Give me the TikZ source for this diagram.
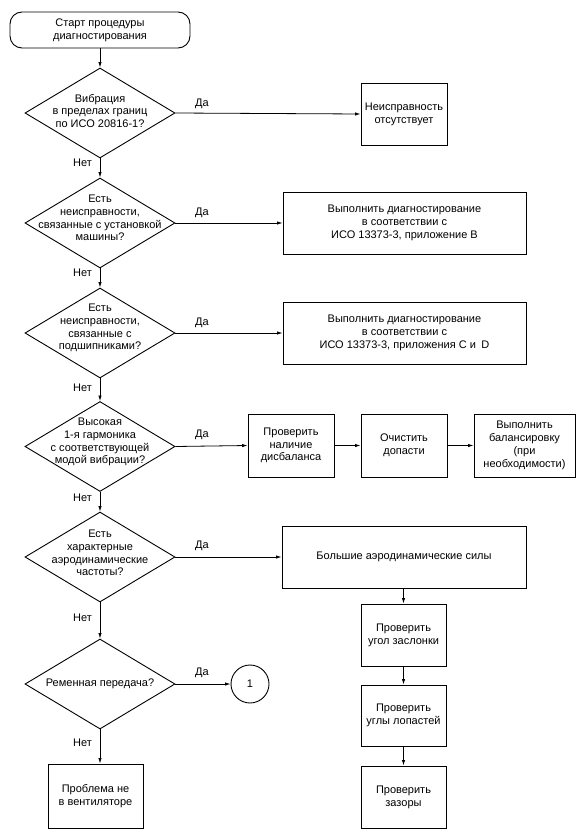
\documentclass[tikz,border=0pt]{standalone}
\usepackage{fontspec}
\setmainfont{Liberation Sans}
\usetikzlibrary{shapes.geometric,arrows.meta}
\begin{document}
\begin{tikzpicture}[x=1pt,y=-1pt,
  every node/.style={font=\fontsize{11}{12.8}\selectfont},
  line/.style={line width=0.8pt},
  arr/.style={line, -{Latex[length=5.5pt,width=3.4pt]}},
  box/.style={draw, line width=0.9pt, inner sep=0pt, align=center},
  term/.style={box, rounded corners=12pt, minimum width=180pt, minimum height=36pt},
  dia/.style={draw, line width=0.9pt, shape=diamond, inner sep=0pt, minimum width=150pt, minimum height=90pt},
  dtext/.style={align=center, inner sep=0pt},
  lbl/.style={inner sep=0pt},
  conn/.style={draw, line width=0.9pt, circle, inner sep=0pt, minimum size=38pt}]
\useasboundingbox (0,0) rectangle (585,837);
\fill[white] (0,0) rectangle (585,837);

\node[term] (start) at (100,30) {Старт процедуры\\диагностирования};

\node[dia] (d1) at (100,113) {};
\node[dtext] (t1) at (100,111) {Вибрация\\в пределах границ\\по ИСО 20816-1?};
\node[box, minimum width=86pt, minimum height=62pt] (b1) at (404,114) {Неисправность\\отсутствует};

\node[dia] (d2) at (100,223) {};
\node[dtext] (t2) at (100,218) {Есть\\неисправности,\\связанные с установкой\\машины?};
\node[box, minimum width=243pt, minimum height=62pt] (b2) at (404.5,223) {Выполнить диагностирование\\в соответствии с\\ИСО 13373-3, приложение B};

\node[dia] (d3) at (100,333) {};
\node[dtext] (t3) at (100,328) {Есть\\неисправности,\\связанные с\\подшипниками?};
\node[box, minimum width=243pt, minimum height=62pt] (b3) at (404.5,333) {Выполнить диагностирование\\в соответствии с\\ИСО 13373-3, приложения C и\enspace D};

\node[dia] (d4) at (100,446.5) {};
\node[dtext] (t4) at (100,442) {Высокая\\1-я гармоника\\с соответствующей\\модой вибрации?};
\node[box, minimum width=86pt, minimum height=63pt] (c1) at (291,445.5) {Проверить\\наличие\\дисбаланса};
\node[box, minimum width=86pt, minimum height=63pt] (c2) at (404,445.5) {Очистить\\допасти};
\node[box, minimum width=101pt, minimum height=63pt] (c3) at (524.5,445.5) {Выполнить\\балансировку\\(при\\необходимости)};

\node[dia] (d5) at (100,557) {};
\node[dtext] (t5) at (100,553) {Есть\\характерные\\аэродинамические\\частоты?};
\node[box, minimum width=244pt, minimum height=62pt] (e0) at (404,557) {Большие аэродинамические силы};
\node[box, minimum width=85pt, minimum height=62pt] (e1) at (403.5,635) {Проверить\\угол заслонки};
\node[box, minimum width=85pt, minimum height=61pt] (e2) at (403.5,715.5) {Проверить\\углы лопастей};
\node[box, minimum width=85pt, minimum height=62pt] (e3) at (403.5,797) {Проверить\\зазоры};

\node[dia] (d6) at (100,684) {};
\node[dtext] (t6) at (100,684) {Ременная передача?};
\node[conn] (k1) at (250,684) {1};
\node[box, minimum width=95pt, minimum height=64pt] (end) at (95.5,796) {Проблема не\\в вентиляторе};

% vertical "Нет" flow
\draw[arr] (start.south) -- (d1.north);
\draw[arr] (d1.south) -- (d2.north);
\draw[arr] (d2.south) -- (d3.north);
\draw[arr] (d3.south) -- (d4.north);
\draw[arr] (d4.south) -- (d5.north);
\draw[arr] (d5.south) -- (d6.north);
\draw[arr] (d6.south) -- (d6.south |- end.north);

\node[lbl, anchor=east] (n1) at (92,163) {Нет};
\node[lbl, anchor=east] (n2) at (92,273) {Нет};
\node[lbl, anchor=east] (n3) at (92,388) {Нет};
\node[lbl, anchor=east] (n4) at (92,498) {Нет};
\node[lbl, anchor=east] (n5) at (92,618) {Нет};
\node[lbl, anchor=east] (n6) at (92,743) {Нет};

% "Да" branches
\draw[arr] (d1.east) -- (b1.west);
\draw[arr] (d2.east) -- (b2.west);
\draw[arr] (d3.east) -- (b3.west);
\draw[arr] (d4.east) -- (c1.west);
\draw[arr] (c1.east) -- (c2.west);
\draw[arr] (c2.east) -- (c3.west);
\draw[arr] (d5.east) -- (e0.west);
\draw[arr] (e0.south -| e1.north) -- (e1.north);
\draw[arr] (e1.south) -- (e2.north);
\draw[arr] (e2.south) -- (e3.north);
\draw[arr] (d6.east) -- (k1.west);

\node[lbl] (y1) at (202,104) {Да};
\node[lbl] (y2) at (202,213) {Да};
\node[lbl] (y3) at (202,323) {Да};
\node[lbl] (y4) at (202,435) {Да};
\node[lbl] (y5) at (202,546) {Да};
\node[lbl] (y6) at (202,673) {Да};
\end{tikzpicture}
\end{document}
